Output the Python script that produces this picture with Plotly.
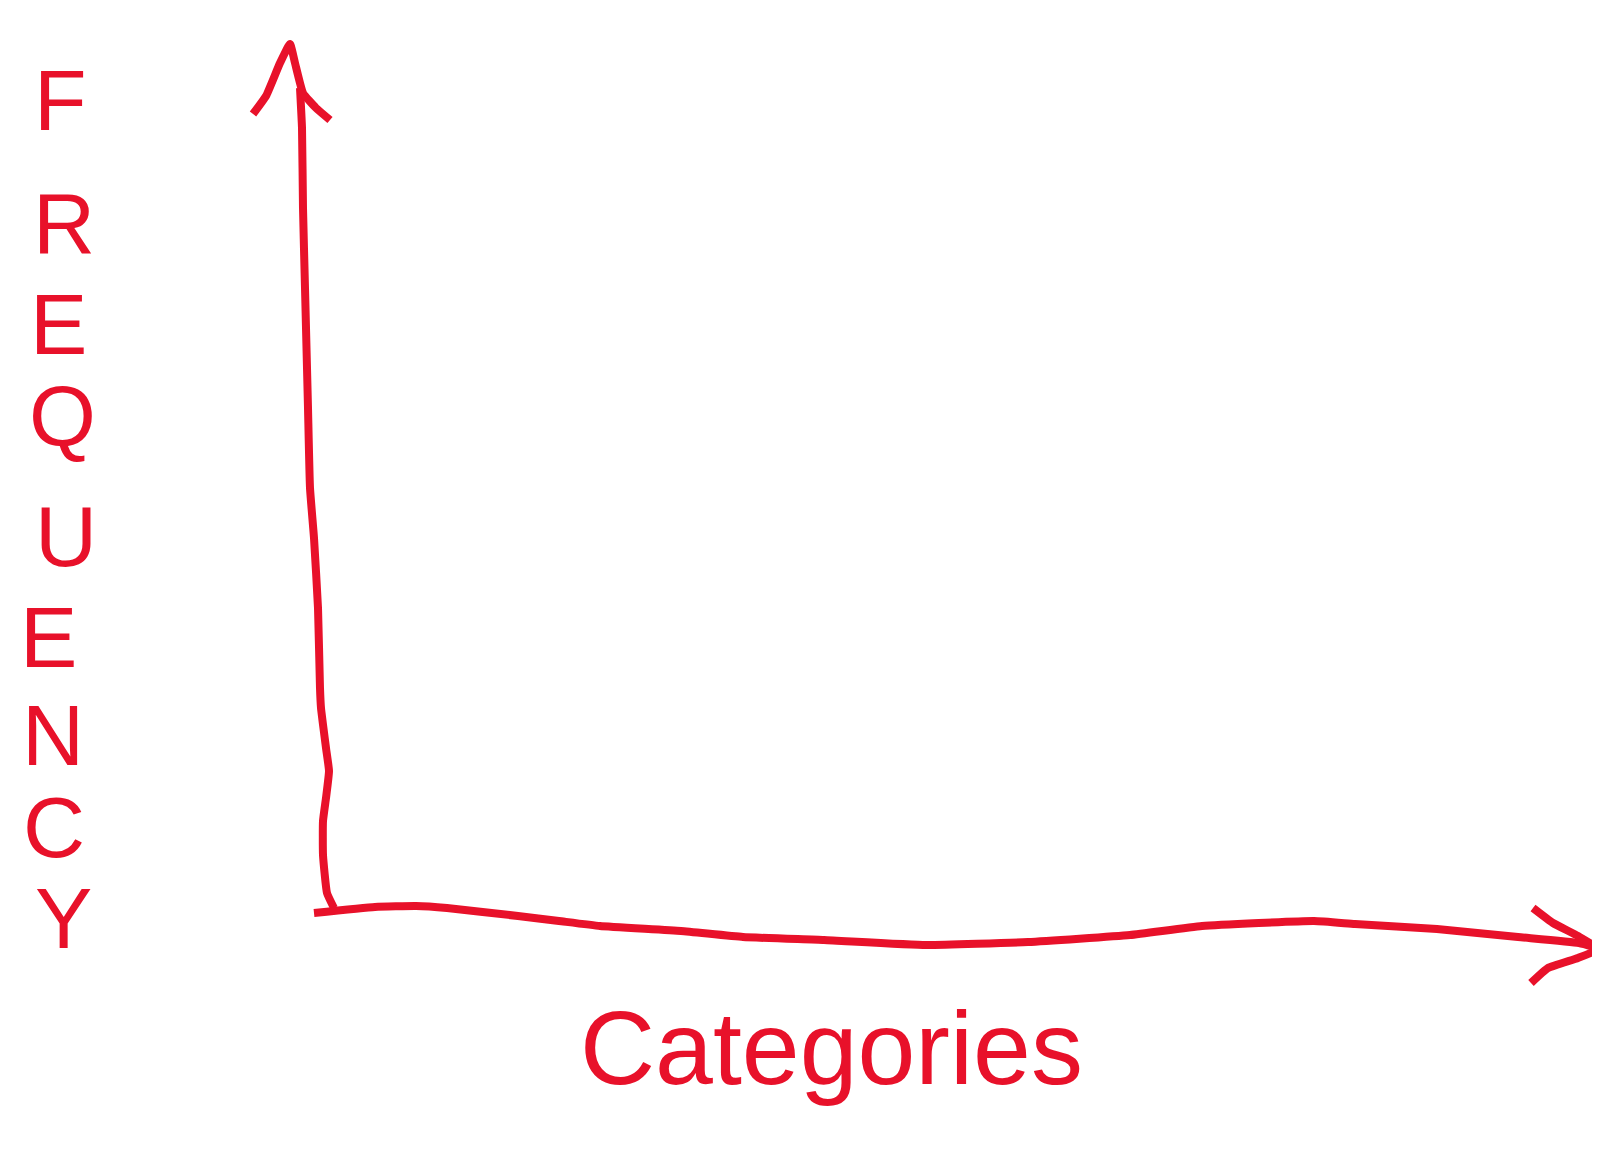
import plotly.graph_objects as go

RED = "#E8112A"

# Hand-drawn y-axis shaft (pixel coordinates of the sketch)
y_axis_x = [292, 294, 295, 297, 300, 302, 306, 310, 312, 313, 318, 321, 318, 315, 315, 319, 326]
y_axis_y = [80, 120, 200, 280, 400, 480, 530, 600, 680, 700, 740, 763, 790, 813, 847, 885, 900]

# Arrow head of the y-axis
y_head_x = [245, 258, 272, 282, 287, 295, 308, 322]
y_head_y = [106, 88, 55, 36, 55, 85, 100, 112]

# Hand-drawn x-axis shaft
x_axis_x = [306, 367, 408, 439, 510, 551, 592, 673, 735, 816, 918, 1020, 1122, 1194, 1306, 1347, 1429, 1510, 1571, 1590]
x_axis_y = [905, 899, 898, 900, 908, 913, 918, 923, 929, 932, 937, 934, 927, 918, 913, 916, 921, 929, 935, 940]

# Arrow head of the x-axis
x_head_x = [1525, 1545, 1570, 1590, 1570, 1540, 1523]
x_head_y = [900, 915, 928, 941, 950, 960, 975]

# Axis labels
y_letters = ["F", "R", "E", "Q", "U", "E", "N", "C", "Y"]
y_letter_x = [52, 56, 50, 54, 58, 40, 45, 46, 55]
y_letter_y = [92, 215, 316, 408, 528, 629, 727, 819, 910]
x_label = "Categories"

fig = go.Figure()
line_style = dict(color=RED, width=8, shape="spline", smoothing=0.4)
for xs, ys in [(y_axis_x, y_axis_y), (y_head_x, y_head_y), (x_axis_x, x_axis_y), (x_head_x, x_head_y)]:
    fig.add_trace(go.Scatter(x=xs, y=ys, mode="lines", line=line_style, hoverinfo="skip",
                             showlegend=False, cliponaxis=False))

for ch, lx, ly in zip(y_letters, y_letter_x, y_letter_y):
    fig.add_annotation(x=lx, y=ly, xref="x", yref="y", text=ch, showarrow=False,
                       xanchor="center", yanchor="middle",
                       font=dict(family="Liberation Sans", size=86, color=RED))

fig.add_annotation(x=823, y=1040, xref="x", yref="y", text=x_label, showarrow=False,
                   xanchor="center", yanchor="middle",
                   font=dict(family="Liberation Sans", size=104, color=RED))

fig.update_layout(
    width=1600, height=1154,
    margin=dict(l=0, r=0, t=0, b=0),
    paper_bgcolor="white", plot_bgcolor="white",
    xaxis=dict(range=[0, 1600], visible=False, fixedrange=True),
    yaxis=dict(range=[1154, 0], visible=False, fixedrange=True),
)

fig.write_html("out.html")
